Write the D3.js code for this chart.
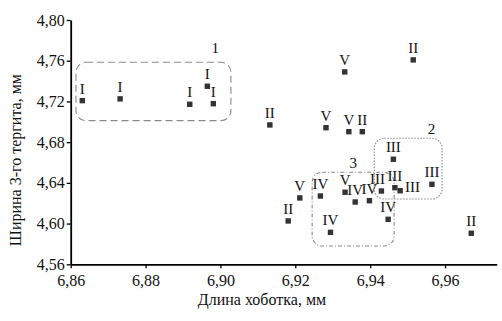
<!DOCTYPE html>
<html><head><meta charset="utf-8">
<script src="https://cdn.jsdelivr.net/npm/d3@7"></script>
<style>body{margin:0;background:#fff}svg{display:block}</style>
</head><body>
<script>
const xVals = [6.8631,6.8732,6.8918,6.8965,6.8981, 6.9332,6.9515,6.9132,6.9282,6.9343,6.9379, 6.9462,6.9466,6.9480,6.9565,6.9430, 6.9267,6.9333,6.9360,6.9398,6.9448,6.9294, 6.9212,6.9181,6.9670];
const yVals = [4.7208,4.7225,4.7172,4.7349,4.7178, 4.7490,4.7608,4.6969,4.6942,4.6903,4.6903, 4.6632,4.6353,4.6323,4.6386,4.6320, 4.6271,4.6308,4.6212,4.6225,4.6042,4.5914, 4.6252,4.6026,4.5905];
const pointLabels = ["I","I","I","I","I", "V","II","II","V","V","II", "III","III","III","III","III", "IV","V","IV","IV","IV","IV", "V","II","II"];
const labelSide = ["top","top","top","top","top", "top","top","top","top","top","top", "top","top","right","top","topleft", "top","top","top","top","top","top", "top","top","top"];
const xTicks = [6.86,6.88,6.90,6.92,6.94,6.96];
const yTicks = [4.56,4.60,4.64,4.68,4.72,4.76,4.80];
const groupNames = ["1","2","3"];
const groupX0 = [6.8614,6.9411,6.9245];
const groupX1 = [6.9028,6.9592,6.9464];
const groupY0 = [4.7011,4.6242,4.5780];
const groupY1 = [4.7585,4.6838,4.6504];
const groupLabelX = [6.8986,6.9564,6.9355];
const groupLabelY = [4.7726,4.6930,4.6599];
const groupDash = ["7,4","1.5,1.5","4,2,1,2"];
const xTitle = "Длина хоботка, мм";
const yTitle = "Ширина 3-го тергита, мм";

const W=502,H=321;
const x = d3.scaleLinear().domain([6.86,6.9738]).range([70.7,496.7]);
const y = d3.scaleLinear().domain([4.56,4.80]).range([264.3,20]);
const fmt = d => d.toFixed(2).replace(".",",");
const font = "'Liberation Serif','Times New Roman',serif";

const svg = d3.select("body").append("svg").attr("width",W).attr("height",H)
  .style("font-family",font);

// group boxes
groupNames.forEach((g,i)=>{
  svg.append("rect")
    .attr("x",x(groupX0[i])).attr("y",y(groupY1[i]))
    .attr("width",x(groupX1[i])-x(groupX0[i])).attr("height",y(groupY0[i])-y(groupY1[i]))
    .attr("rx",10).attr("ry",10)
    .attr("fill","none").attr("stroke","#8a8a8a").attr("stroke-width",1.1)
    .attr("stroke-dasharray",groupDash[i]);
  svg.append("text").attr("x",x(groupLabelX[i])).attr("y",y(groupLabelY[i])+5)
    .attr("text-anchor","middle").attr("font-size",15).attr("fill","#111").text(g);
});

// axes
const xAxis = svg.append("g").attr("transform",`translate(0,${y(4.56)})`)
  .call(d3.axisBottom(x).tickValues(xTicks).tickFormat(fmt).tickSize(4).tickSizeOuter(0));
const yAxis = svg.append("g").attr("transform",`translate(${x(6.86)},0)`)
  .call(d3.axisLeft(y).tickValues(yTicks).tickFormat(fmt).tickSize(4).tickSizeOuter(0));
[xAxis,yAxis].forEach(a=>{
  a.select(".domain").attr("stroke","#000").attr("stroke-width",1.8);
  a.selectAll(".tick line").attr("stroke","#000").attr("stroke-width",1.3);
  a.selectAll(".tick text").attr("font-family",font).attr("font-size",16).attr("fill","#111");
});
xAxis.selectAll(".tick text").attr("dy","0.9em");
yAxis.selectAll(".tick text").attr("x",-6);

// titles
svg.append("text").attr("x",262).attr("y",305).attr("text-anchor","middle")
  .attr("font-size",16).attr("fill","#111").text(xTitle);
svg.append("text").attr("transform",`translate(21,${(y(4.56)+y(4.80))/2+18}) rotate(-90)`)
  .attr("text-anchor","middle").attr("font-size",16).attr("fill","#111").text(yTitle);

// points
const pts = xVals.map((v,i)=>({x:v,y:yVals[i],l:pointLabels[i],s:labelSide[i]}));
svg.append("g").selectAll("rect").data(pts).join("rect")
  .attr("x",d=>x(d.x)-2.7).attr("y",d=>y(d.y)-2.7).attr("width",5.4).attr("height",5.4)
  .attr("fill","#333");
svg.append("g").selectAll("text").data(pts).join("text")
  .attr("x",d=>d.s==="right"?x(d.x)+5:(d.s==="topleft"?x(d.x)-4:x(d.x)))
  .attr("y",d=>d.s==="right"?y(d.y)+1:y(d.y)-7)
  .attr("text-anchor",d=>d.s==="right"?"start":"middle")
  .attr("font-size",15).attr("fill","#111").text(d=>d.l);
</script>
</body></html>
